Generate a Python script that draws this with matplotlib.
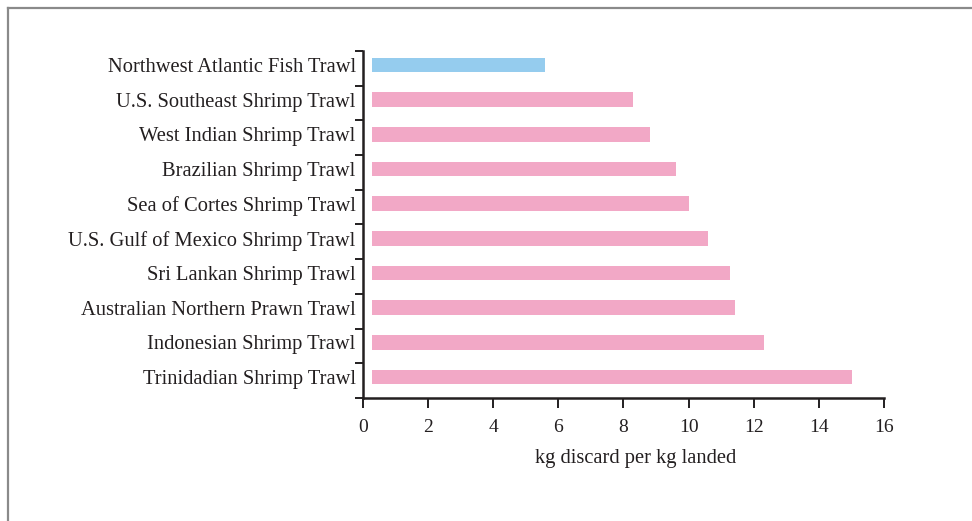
import matplotlib.pyplot as plt
from matplotlib.lines import Line2D
import numpy as np

fisheries = ["Northwest Atlantic Fish Trawl", "U.S. Southeast Shrimp Trawl",
             "West Indian Shrimp Trawl", "Brazilian Shrimp Trawl",
             "Sea of Cortes Shrimp Trawl", "U.S. Gulf of Mexico Shrimp Trawl",
             "Sri Lankan Shrimp Trawl", "Australian Northern Prawn Trawl",
             "Indonesian Shrimp Trawl", "Trinidadian Shrimp Trawl"]
discard = [5.59, 8.29, 8.81, 9.61, 10.01, 10.59, 11.27, 11.42, 12.31, 15.01]
bar_colors = ["#95CCEE"] + ["#F2A8C6"] * 9
xticks = [0, 2, 4, 6, 8, 10, 12, 14, 16]

plt.rcParams['font.family'] = ['Liberation Serif', 'DejaVu Serif']
ink = "#231f20"

fig = plt.figure(figsize=(9.72, 5.21), dpi=100)
ax = fig.add_axes([0.3731, 0.2361, 0.9098 - 0.3731, 0.9021 - 0.2361])

gap = 0.29  # bars start a little right of the axis
y = np.arange(len(fisheries))
vals = np.array(discard)
ax.barh(y, vals - gap, left=gap, height=0.42, color=bar_colors)

ax.set_xlim(0, 16)
ax.set_ylim(9.6, -0.4)
ax.set_xticks(xticks)
ax.set_xticklabels([str(t) for t in xticks])
ax.set_yticks(y)
ax.set_yticklabels(fisheries)
ax.set_yticks(np.arange(len(fisheries) + 1) - 0.4, minor=True)

ax.tick_params(axis='y', which='major', length=0, pad=5, labelsize=14.8, labelcolor=ink)
ax.tick_params(axis='y', which='minor', length=6, width=1.4, color=ink, direction='out')
ax.tick_params(axis='x', which='major', length=7, width=1.4, color=ink, pad=8,
               labelsize=14, labelcolor=ink)

for s in ['top', 'right']:
    ax.spines[s].set_visible(False)
for s in ['left', 'bottom']:
    ax.spines[s].set_color(ink)
    ax.spines[s].set_linewidth(1.8)

ax.set_xlabel("kg discard per kg landed", fontsize=14.8, color=ink)
ax.xaxis.set_label_coords(0.523, -0.175)
ax.xaxis.label.set_va('center')

# outer frame (top and left edges visible)
fig.add_artist(Line2D([8 / 972, 1], [1 - 7.5 / 521, 1 - 7.5 / 521],
                      transform=fig.transFigure, color="#8a8a8a", lw=1.6))
fig.add_artist(Line2D([8 / 972, 8 / 972], [0, 1 - 7.5 / 521],
                      transform=fig.transFigure, color="#8a8a8a", lw=1.6))

fig.savefig('out.png', dpi=100)
